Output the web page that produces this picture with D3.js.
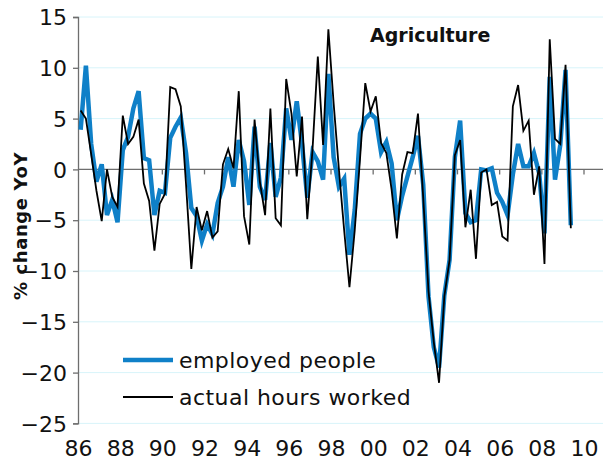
<!DOCTYPE html>
<html>
<head>
<meta charset="utf-8">
<script src="https://cdn.jsdelivr.net/npm/d3@7/dist/d3.min.js"></script>
<style>
html,body{margin:0;padding:0;background:#fff;}
svg{display:block;}
text{font-family:"DejaVu Sans",Verdana,sans-serif;fill:#111;}
</style>
</head>
<body>
<svg id="chart" width="603" height="467"></svg>
<script>
// ---- data (quarterly, 1986Q1 .. 2009Q2), % change YoY ----
const startYear = 1986;
const employedPeople = [
  3.9, 10.2, 2.5, -1.2, 0.5, -4.5, -3.0, -5.2,
  1.9, 3.2, 6.0, 7.7, 1.1, 0.9, -4.5, -2.1,
  -2.3, 3.1, 4.2, 5.1, 1.6, -3.8, -4.6, -7.0,
  -5.4, -6.4, -3.3, -1.7, 1.2, -1.7, 2.9, 0.8,
  -3.5, 4.2, -1.7, -3.0, 2.6, -2.7, -0.8, 6.0,
  2.9, 6.7, 2.5, -2.8, 1.7, 0.8, -1.0, 9.4,
  1.2, -1.7, -0.9, -8.4, -4.0, 3.5, 5.0, 5.5,
  5.0, 1.7, 2.7, 0.6, -5.0, -2.6, -0.7, 1.2,
  3.3, -1.5, -12.5, -17.5, -19.5, -12.4, -8.9, 1.2,
  4.8, -4.3, -5.2, -5.0, 0.0, -0.1, 0.1, -2.3,
  -3.2, -4.5, -0.5, 2.5, 0.3, 0.3, 1.6, -0.4,
  -6.3, 9.1, -1.0, 2.4, 9.8, -5.5
];
const actualHoursWorked = [
  5.8, 5.0, 1.5, -2.1, -5.1, 0.0, -2.7, -3.7,
  5.3, 2.5, 3.2, 4.9, -1.4, -3.1, -8.0, -3.4,
  -2.4, 8.1, 7.9, 6.2, -1.5, -9.8, -3.7, -6.0,
  -4.1, -6.7, -6.1, 0.5, 2.0, 0.1, 7.7, -4.6,
  -7.4, 4.9, -1.2, -4.5, 6.0, -4.8, -5.5, 8.9,
  5.5, -0.7, 5.2, -4.9, 2.0, 11.1, 2.4, 13.8,
  6.5, 0.0, -6.0, -11.6, -6.0, 1.0, 8.5, 5.7,
  7.2, 2.6, 1.6, -2.0, -6.8, -0.5, 1.7, 1.6,
  5.5, -2.8, -12.0, -17.0, -21.0, -12.5, -8.9, 1.4,
  2.9, -5.7, -2.0, -8.8, -0.3, 0.0, -3.5, -3.2,
  -6.6, -7.0, 6.2, 8.3, 3.8, 4.8, -2.5, 0.3,
  -9.3, 12.8, 3.0, 2.5, 10.3, -5.8
];
const quarters = employedPeople.map((_, i) => ({year: startYear + Math.floor(i / 4), q: (i % 4) + 1}));
const xTickYears = [1986, 1988, 1990, 1992, 1994, 1996, 1998, 2000, 2002, 2004, 2006, 2008, 2010];
const xTickLabels = ["86", "88", "90", "92", "94", "96", "98", "00", "02", "04", "06", "08", "10"];
const yTicks = [15, 10, 5, 0, -5, -10, -15, -20, -25];
const seriesNames = ["employed people", "actual hours worked"];
const chartTitle = "Agriculture";
const yTitle = "% change YoY";

// ---- layout ----
const svg = d3.select("#chart");
const mLeft = 78, mRight = 584, plotRight = 603, mTop = 17, mBottom = 423.4;
const x = d3.scaleLinear().domain([1986, 2010]).range([mLeft, mRight]);
const y = d3.scaleLinear().domain([-25, 15]).range([mBottom, mTop]);
const blue = "#0f80c8";
const gridColor = "#d8f4fa";
const axisColor = "#6e6e6e";

// gridlines
svg.append("g").selectAll("line").data(yTicks.filter(d => d !== 0)).join("line")
  .attr("x1", mLeft).attr("x2", plotRight)
  .attr("y1", d => y(d)).attr("y2", d => y(d))
  .attr("stroke", gridColor).attr("stroke-width", 1);

// y axis
const yAxis = d3.axisLeft(y).tickValues(yTicks).tickSize(5).tickPadding(6).tickFormat(d3.format("d"));
const gy = svg.append("g").attr("transform", `translate(${mLeft},0)`).call(yAxis);
gy.select(".domain").attr("stroke", axisColor).attr("stroke-width", 1.3);
gy.selectAll(".tick line").attr("stroke", axisColor).attr("stroke-width", 1.3);
gy.selectAll(".tick text").style("font-size", "22px").attr("fill", "#111")
  .style("font-family", '"DejaVu Sans",Verdana,sans-serif').attr("dy", "0.35em");

// zero line with ticks
svg.append("line").attr("x1", mLeft).attr("x2", plotRight)
  .attr("y1", y(0)).attr("y2", y(0)).attr("stroke", axisColor).attr("stroke-width", 1.3);
svg.append("g").selectAll("line").data(xTickYears.slice(1)).join("line")
  .attr("x1", d => x(d)).attr("x2", d => x(d))
  .attr("y1", y(0)).attr("y2", y(0) + 5)
  .attr("stroke", axisColor).attr("stroke-width", 1.3);

// x labels at bottom
const xAxis = d3.axisBottom(x).tickValues(xTickYears).tickSize(0).tickPadding(0)
  .tickFormat((d, i) => xTickLabels[i]);
const gx = svg.append("g").attr("transform", `translate(0,${mBottom})`).call(xAxis);
gx.select(".domain").remove();
gx.selectAll(".tick text").style("font-size", "22px").attr("fill", "#111")
  .style("font-family", '"DejaVu Sans",Verdana,sans-serif').attr("dy", "1.5em");

// lines
const xPos = (d, i) => x(quarters[i].year + (quarters[i].q - 0.5) / 4);
const line = d3.line().x((d, i) => xPos(d, i)).y(d => y(d));
svg.append("path").datum(employedPeople).attr("d", line)
  .attr("fill", "none").attr("stroke", blue).attr("stroke-width", 4.5).attr("stroke-linejoin", "miter");
svg.append("path").datum(actualHoursWorked).attr("d", line)
  .attr("fill", "none").attr("stroke", "#000").attr("stroke-width", 1.8).attr("stroke-linejoin", "miter");

// title
svg.append("text").attr("x", 370).attr("y", 42).text(chartTitle)
  .style("font-size", "19px").style("font-weight", "bold");

// y title
svg.append("text").attr("transform", "translate(27,226) rotate(-90)")
  .attr("text-anchor", "middle").text(yTitle)
  .style("font-size", "18px").style("font-weight", "bold").style("letter-spacing", "0.6px");

// legend
const legend = svg.append("g");
const legY = [360, 397];
const legColors = [blue, "#000"];
const legWidths = [4.5, 1.8];
seriesNames.forEach((name, i) => {
  legend.append("line").attr("x1", 123).attr("x2", 173)
    .attr("y1", legY[i]).attr("y2", legY[i])
    .attr("stroke", legColors[i]).attr("stroke-width", legWidths[i]);
  legend.append("text").attr("x", 179).attr("y", legY[i]).attr("dy", "0.35em")
    .text(name).style("font-size", "22px").style("letter-spacing", "0.45px");
});
</script>
</body>
</html>
